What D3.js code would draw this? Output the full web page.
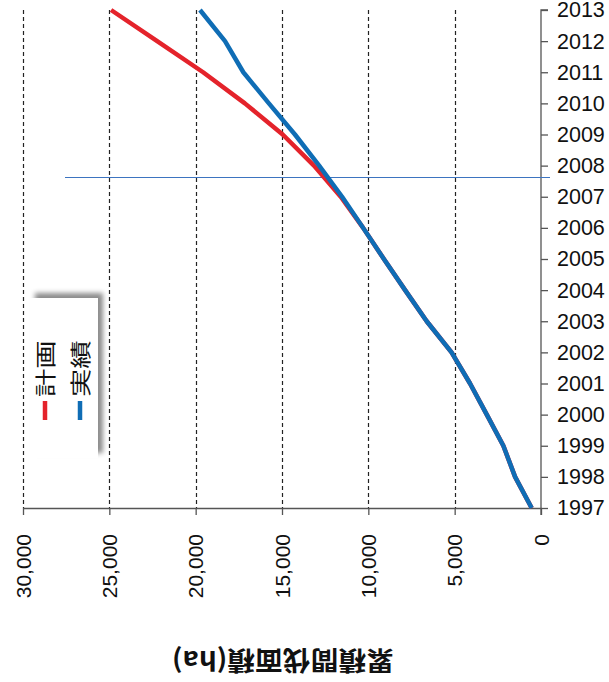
<!DOCTYPE html>
<html>
<head>
<meta charset="utf-8">
<script src="https://cdn.jsdelivr.net/npm/d3@7"></script>
<style>
  html, body { margin: 0; padding: 0; background: #fff; }
  svg { display: block; }
</style>
</head>
<body>
<svg id="chart" width="609" height="682"></svg>
<script>
// Cumulative thinning area (ha), by fiscal year
const years   = [1997, 1998, 1999, 2000, 2001, 2002, 2003, 2004, 2005, 2006, 2007, 2008, 2009, 2010, 2011, 2012, 2013];
const actual  = [540, 1500, 2180, 3140, 4110, 5180, 6620, 7870, 9100, 10300, 11520, 12850, 14250, 15760, 17240, 18300, 19750];
const planned = [540, 1500, 2180, 3140, 4110, 5180, 6620, 7870, 9100, 10300, 11600, 13150, 14960, 17150, 19570, 22230, 24900];
const valueTicks = [0, 5000, 10000, 15000, 20000, 25000, 30000];
const markerYear = 2007.62;
const seriesNames = ["計画", "実績"];
const axisTitle = "累積間伐面積(ha)";

const svg = d3.select("#chart");
const red = "#e4232b", blue = "#0f6db5";
const latin = "'Liberation Sans', Arial, sans-serif";
const cjk = "'Noto Sans CJK JP', 'Noto Sans', sans-serif";

// Value runs right-to-left, years run bottom-to-top
const x = d3.scaleLinear().domain([0, 30000]).range([541, 23]);
const y = d3.scaleLinear().domain([1997, 2013]).range([508, 10]);

// Dashed gridlines
svg.append("g").selectAll("line")
  .data(valueTicks.filter(v => v > 0))
  .join("line")
  .attr("x1", d => Math.round(x(d)) + 0.5).attr("x2", d => Math.round(x(d)) + 0.5)
  .attr("y1", y(2013)).attr("y2", y(1997))
  .attr("stroke", "#222").attr("stroke-width", 1.2)
  .attr("stroke-dasharray", "4,3");

// Value axis (bottom)
const gx = svg.append("g")
  .attr("transform", `translate(0,${y(1997)})`)
  .call(d3.axisBottom(x).tickValues(valueTicks).tickSize(7).tickSizeOuter(0).tickFormat(""));
gx.select(".domain").attr("stroke", "#555").attr("stroke-width", 1.3);
gx.selectAll(".tick line").attr("stroke", "#555").attr("stroke-width", 1.3);

// Rotated value labels
svg.append("g").selectAll("text")
  .data(valueTicks)
  .join("text")
  .attr("transform", d => `translate(${x(d) + 7.5},${y(1997) + 26}) rotate(-90)`)
  .attr("text-anchor", "end")
  .attr("font-family", latin).attr("font-size", 21).attr("fill", "#111")
  .text(d => d3.format(",")(d));

// Year axis (right)
const gy = svg.append("g")
  .attr("transform", `translate(${x(0)},0)`)
  .call(d3.axisRight(y).tickValues(years).tickSize(7).tickPadding(9).tickFormat(d3.format("d")));
gy.select(".domain").attr("stroke", "#555").attr("stroke-width", 1.3);
gy.selectAll(".tick line").attr("stroke", "#555").attr("stroke-width", 1.3);
gy.selectAll(".tick text").attr("font-family", latin).attr("font-size", 21.5).attr("fill", "#111");
gy.select(".domain").attr("d", `M7,${y(2013)}H0V${y(1997) + 7}`);

// Horizontal reference line
const markerY = Math.round(y(markerYear)) + 0.5;
svg.append("line")
  .attr("x1", 65).attr("x2", x(0) + 9)
  .attr("y1", markerY).attr("y2", markerY)
  .attr("stroke", "#3d74c0").attr("stroke-width", 1.2);

// Series lines
const line = d3.line().x(d => x(d[1])).y(d => y(d[0]));
svg.append("path")
  .datum(years.map((yr, i) => [yr, planned[i]]))
  .attr("d", line).attr("fill", "none")
  .attr("stroke", red).attr("stroke-width", 4.5).attr("stroke-linejoin", "round");
svg.append("path")
  .datum(years.map((yr, i) => [yr, actual[i]]))
  .attr("d", line).attr("fill", "none")
  .attr("stroke", blue).attr("stroke-width", 4.5).attr("stroke-linejoin", "round");

// Legend with soft shadow on top and right
const defs = svg.append("defs");
const f = defs.append("filter").attr("id", "shadow")
  .attr("x", "-20%").attr("y", "-20%").attr("width", "140%").attr("height", "140%");
f.append("feDropShadow").attr("dx", 5).attr("dy", -5).attr("stdDeviation", 2.5)
  .attr("flood-color", "#000").attr("flood-opacity", 0.45);

const lg = svg.append("g");
lg.append("rect")
  .attr("x", 30).attr("y", 298).attr("width", 68).attr("height", 160)
  .attr("fill", "#fff").attr("filter", "url(#shadow)");

const legendColors = [red, blue];
seriesNames.forEach((name, i) => {
  const cx = 45 + i * 35;
  lg.append("line")
    .attr("x1", cx).attr("x2", cx)
    .attr("y1", 401).attr("y2", 420)
    .attr("stroke", legendColors[i]).attr("stroke-width", 4.5);
  lg.append("text")
    .attr("transform", `translate(${cx + 8},397) rotate(-90) scale(1.35,1)`)
    .attr("font-family", cjk).attr("font-size", 21).attr("fill", "#111")
    .text(name);
});

// Axis title, upside-down
svg.append("text")
  .attr("transform", `translate(283,651) rotate(180) scale(1.07,1)`)
  .attr("text-anchor", "middle")
  .attr("font-family", cjk).attr("font-size", 26).attr("font-weight", "bold").attr("fill", "#111")
  .text(axisTitle);
</script>
</body>
</html>
